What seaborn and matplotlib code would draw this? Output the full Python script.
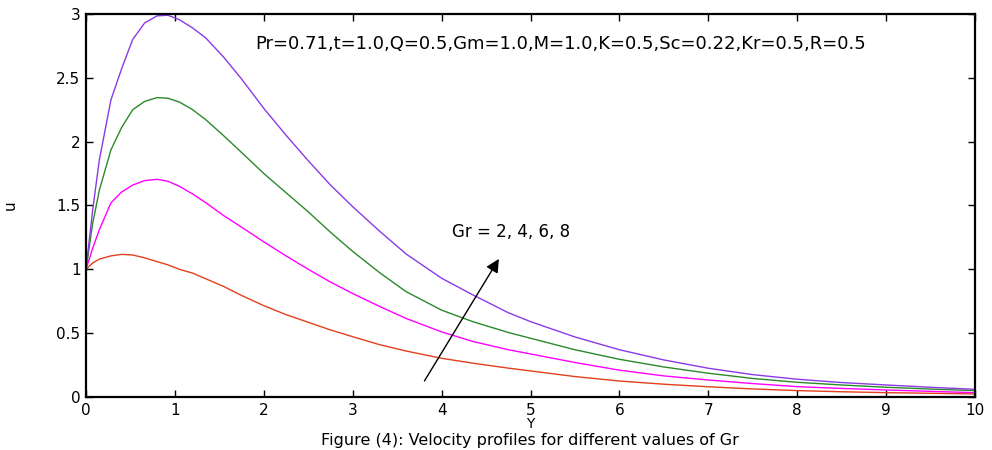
import matplotlib
matplotlib.use("Agg")
import matplotlib.pyplot as plt
import seaborn as sns
import pandas as pd

# Distance from the plate
Y = [0, 0.075, 0.15, 0.28, 0.4, 0.525, 0.66, 0.8, 0.92, 1.05, 1.2, 1.35,
     1.55, 1.75, 2.0, 2.25, 2.5, 2.75, 3.0, 3.3, 3.6, 4.0, 4.35, 4.75, 5.0,
     5.5, 6.0, 6.5, 7.0, 7.5, 8.0, 8.5, 9.0, 9.5, 10]

# Velocity profiles u(Y) for each Grashof number
u_gr2 = [1.0, 1.05, 1.08, 1.105, 1.117, 1.112, 1.09, 1.06, 1.035, 1.0, 0.97,
         0.925, 0.865, 0.795, 0.715, 0.645, 0.585, 0.525, 0.472, 0.41, 0.36,
         0.303, 0.265, 0.226, 0.204, 0.16, 0.125, 0.1, 0.08, 0.063, 0.05,
         0.041, 0.034, 0.029, 0.024]
u_gr4 = [1.0, 1.165, 1.31, 1.52, 1.605, 1.66, 1.695, 1.705, 1.69, 1.65, 1.59,
         1.52, 1.42, 1.33, 1.215, 1.105, 1.0, 0.90, 0.81, 0.71, 0.615,
         0.51, 0.435, 0.37, 0.337, 0.27, 0.21, 0.165, 0.133, 0.105, 0.081,
         0.067, 0.055, 0.044, 0.034]
u_gr6 = [1.0, 1.36, 1.62, 1.935, 2.11, 2.25, 2.315, 2.345, 2.34, 2.31, 2.25,
         2.17, 2.045, 1.915, 1.75, 1.60, 1.45, 1.29, 1.14, 0.975, 0.825,
         0.68, 0.59, 0.505, 0.46, 0.37, 0.295, 0.235, 0.186, 0.145, 0.115,
         0.094, 0.076, 0.062, 0.05]
u_gr8 = [1.0, 1.465, 1.856, 2.326, 2.57, 2.80, 2.93, 2.985, 2.99, 2.955, 2.89,
         2.81, 2.66, 2.49, 2.26, 2.05, 1.85, 1.66, 1.49, 1.30, 1.12,
         0.93, 0.80, 0.66, 0.59, 0.47, 0.37, 0.29, 0.225, 0.175, 0.139,
         0.113, 0.094, 0.076, 0.06]

gr_labels = ["Gr=2", "Gr=4", "Gr=6", "Gr=8"]
colors = ["#e2401c", "#ff00ff", "#2a8a2a", "#8a3ae6"]

x_ticks = list(range(0, 11))
y_ticks = [0, 0.5, 1, 1.5, 2, 2.5, 3]
y_tick_labels = ["0", "0.5", "1", "1.5", "2", "2.5", "3"]

params_text = "Pr=0.71,t=1.0,Q=0.5,Gm=1.0,M=1.0,K=0.5,Sc=0.22,Kr=0.5,R=0.5"
arrow_text = "Gr = 2, 4, 6, 8"
caption = "Figure (4): Velocity profiles for different values of Gr"

frames = []
for lab, vals in zip(gr_labels, [u_gr2, u_gr4, u_gr6, u_gr8]):
    frames.append(pd.DataFrame({"Y": Y, "u": vals, "Gr": lab}))
df = pd.concat(frames, ignore_index=True)

sns.set_theme(style="ticks")
plt.rcParams["font.family"] = ["DejaVu Sans"]
plt.rcParams.update({"text.color": "black", "axes.labelcolor": "black",
                     "xtick.color": "black", "ytick.color": "black"})

fig = plt.figure(figsize=(9.92, 4.5), dpi=100)
ax = fig.add_axes([0.0867, 0.1178, 0.8963, 0.8512])

sns.lineplot(data=df, x="Y", y="u", hue="Gr", palette=colors,
             linewidth=1.0, legend=False, ax=ax)

ax.set_xlim(0, 10)
ax.set_ylim(0, 3)
ax.set_xticks(x_ticks)
ax.set_xticklabels([str(v) for v in x_ticks])
ax.set_yticks(y_ticks)
ax.set_yticklabels(y_tick_labels)

for side in ["top", "right", "bottom", "left"]:
    ax.spines[side].set_visible(True)
    ax.spines[side].set_color("black")
    ax.spines[side].set_linewidth(1.6)

ax.tick_params(direction="in", length=5, width=1, colors="black",
               labelcolor="black", top=True, right=True, labelsize=11, pad=4)

ax.set_xlabel("Y", fontsize=10, color="black")
ax.xaxis.set_label_coords(0.5, -0.052)
ax.set_ylabel("u", fontsize=11, color="black")
ax.yaxis.set_label_coords(-0.0765, 0.5)

ax.text(1.9, 2.765, params_text, fontsize=13, va="center", ha="left",
        color="black")
ax.text(4.12, 1.29, arrow_text, fontsize=12, va="center", ha="left",
        color="black")
ax.annotate("", xy=(4.66, 1.10), xytext=(3.79, 0.107),
            arrowprops=dict(arrowstyle="-|>", color="black", lw=1.0,
                            mutation_scale=20))

fig.text(0.534, 0.02, caption, fontsize=11.5, ha="center", va="center",
         color="black")

fig.savefig("out.png", dpi=100)
